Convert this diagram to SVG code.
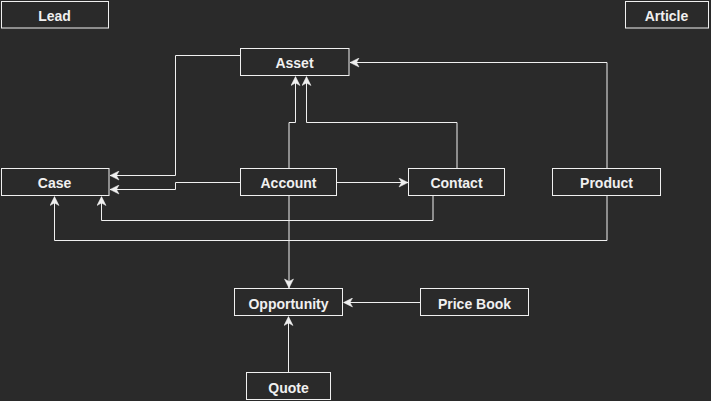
<svg xmlns="http://www.w3.org/2000/svg" width="711" height="401" viewBox="0 0 711 401">
<defs>
<style>
.n rect{fill:#2a2a2a;stroke:#f0f0f0;stroke-width:1}
.n text{fill:#f0f0f0;font-family:"Liberation Sans",Arial,sans-serif;font-weight:bold;font-size:14px;text-anchor:middle}
.e path{fill:none;stroke:#f0f0f0;stroke-width:1}
</style>
<marker id="a" viewBox="-10 -5 10 10" refX="0" refY="0" markerWidth="10" markerHeight="10" markerUnits="userSpaceOnUse" orient="auto">
<path d="M0,0 L-9,-4.5 L-6.5,0 L-9,4.5 Z" fill="#f0f0f0" stroke="#f0f0f0" stroke-width="0.5"/>
</marker>
</defs>
<rect x="0" y="0" width="711" height="401" fill="#2a2a2a"/>
<g class="e">
<path d="M240.5,55.5 H175.5 V175.5 H110" marker-end="url(#a)"/>
<path d="M240.5,182.5 H175.5 V189.5 H110" marker-end="url(#a)"/>
<path d="M433,196 V220.5 H101.5 V196.5" marker-end="url(#a)"/>
<path d="M607,196 V240.5 H54.5 V196.5" marker-end="url(#a)"/>
<path d="M607,168 V62.5 H350" marker-end="url(#a)"/>
<path d="M289,168 V122.5 H295.5 V76.5" marker-end="url(#a)"/>
<path d="M457,168 V122.5 H306.5 V76.5" marker-end="url(#a)"/>
<path d="M337,182.5 H408" marker-end="url(#a)"/>
<path d="M289,196 V288" marker-end="url(#a)"/>
<path d="M420.5,302.5 H343.5" marker-end="url(#a)"/>
<path d="M288.5,372.5 V316.5" marker-end="url(#a)"/>
</g>
<g id="lead" class="n"><rect x="1.5" y="1.5" width="107" height="26.5"/><text x="54.5" y="20.5">Lead</text></g>
<g id="article" class="n"><rect x="625.5" y="1.5" width="83" height="26.5"/><text x="666.5" y="20.5">Article</text></g>
<g id="asset" class="n"><rect x="240.5" y="48.5" width="108.5" height="27"/><text x="294.5" y="68">Asset</text></g>
<g id="case" class="n"><rect x="1.5" y="168.5" width="107.5" height="27"/><text x="54.5" y="188">Case</text></g>
<g id="account" class="n"><rect x="240.5" y="168.5" width="96" height="27"/><text x="288.5" y="188">Account</text></g>
<g id="contact" class="n"><rect x="408.5" y="168.5" width="96" height="27"/><text x="456.5" y="188">Contact</text></g>
<g id="product" class="n"><rect x="552.5" y="168.5" width="108" height="27"/><text x="606.5" y="188">Product</text></g>
<g id="opportunity" class="n"><rect x="234.5" y="288.5" width="108" height="27"/><text x="288.5" y="308.5">Opportunity</text></g>
<g id="pricebook" class="n"><rect x="420.5" y="288.5" width="108" height="27"/><text x="474.5" y="308.5">Price Book</text></g>
<g id="quote" class="n"><rect x="246.5" y="372.5" width="84" height="27"/><text x="288.5" y="392.5">Quote</text></g>
</svg>
